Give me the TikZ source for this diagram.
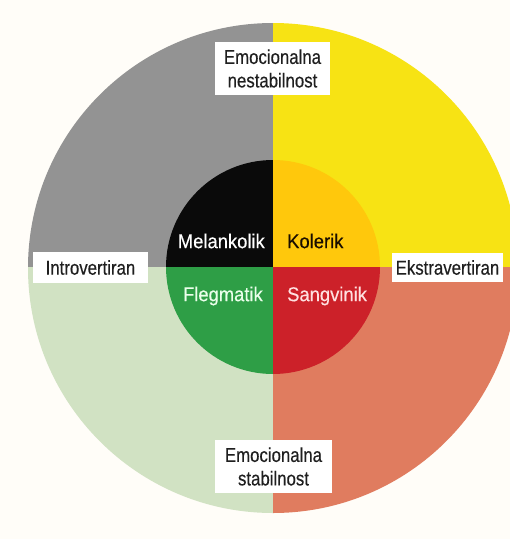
\documentclass[tikz,border=0pt]{standalone}
\usepackage{fontspec}
\setmainfont{Liberation Sans}[FakeStretch=0.84,FakeBold=0.3]
\newfontfamily\innerfont{Liberation Sans}[FakeStretch=0.92,FakeBold=0.3]
\definecolor{cgray}{HTML}{939393}
\definecolor{cyellow}{HTML}{F7E314}
\definecolor{clgreen}{HTML}{D1E2C3}
\definecolor{csalmon}{HTML}{E07C5F}
\definecolor{cblack}{HTML}{0A0A0A}
\definecolor{corange}{HTML}{FFC80C}
\definecolor{cgreen}{HTML}{2E9E46}
\definecolor{cred}{HTML}{CC2129}
\definecolor{cbg}{HTML}{FFFDF8}
\begin{document}
\begin{tikzpicture}[x=1pt,y=-1pt,
  lbl/.style={fill=white, inner sep=0pt, align=center, font=\fontsize{20}{23.5}\selectfont, text=black!88},
  temp/.style={inner sep=0pt, font=\innerfont\fontsize{20}{23}\selectfont}]
\useasboundingbox (0,0) rectangle (510,539);
\clip (0,0) rectangle (510,539);
\fill[cbg] (0,0) rectangle (510,539);
\coordinate (c) at (273,268);
\coordinate (ci) at (273,267);
% outer quadrants
\begin{scope}
  \clip (c) circle[radius=245];
  \fill[cgray] (ci) rectangle (20,20);
  \fill[cyellow] (ci) rectangle (520,20);
  \fill[clgreen] (ci) rectangle (20,520);
  \fill[csalmon] (ci) rectangle (520,520);
\end{scope}
% inner quadrants
\begin{scope}
  \clip (ci) circle[radius=107];
  \fill[cblack] (ci) rectangle (160,160);
  \fill[corange] (ci) rectangle (390,160);
  \fill[cgreen] (ci) rectangle (160,380);
  \fill[cred] (ci) rectangle (390,380);
\end{scope}
% temperament labels
\node[temp, text=white, anchor=east] (mel) at (265,241) {Melankolik};
\node[temp, text=black!90!orange, anchor=west] (kol) at (287,241) {Kolerik};
\node[temp, text=green!8!white, anchor=east] (fle) at (263,296) {Flegmatik};
\node[temp, text=red!12!white, anchor=west] (san) at (287,296) {Sangvinik};
% axis labels
\node[lbl, minimum width=115, minimum height=53] (top) at (272.5,68.5) {Emocionalna\\nestabilnost};
\node[lbl, minimum width=115, minimum height=31] (left) at (90.5,267.5) {Introvertiran};
\node[lbl, minimum width=111, minimum height=29] (right) at (447.5,267.5) {Ekstravertiran};
\node[lbl, minimum width=117, minimum height=53] (bottom) at (273.5,466.5) {Emocionalna\\stabilnost};
\end{tikzpicture}
\end{document}
